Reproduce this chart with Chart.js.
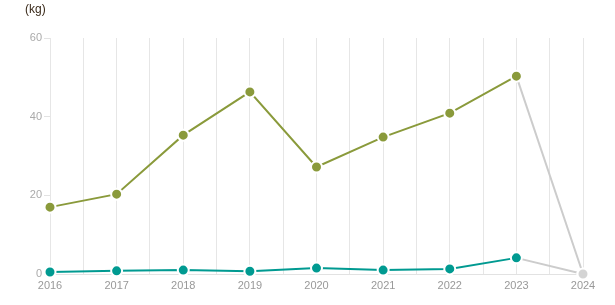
<!DOCTYPE html>
<html>
<head>
<meta charset="utf-8">
<script src="https://cdn.jsdelivr.net/npm/chart.js@4"></script>
<style>
  html, body { margin: 0; padding: 0; background: #fff; }
  #wrap { position: relative; width: 615px; height: 305px; }
  #unit { position: absolute; left: 25px; top: 2px; font: 12px "Liberation Sans", Arial, sans-serif; color: #3a2a1a; }
</style>
</head>
<body>
<div id="wrap">
  <canvas id="c" width="615" height="305"></canvas>
  <div id="unit">(kg)</div>
</div>
<script>
const years = [2016, 2017, 2018, 2019, 2020, 2021, 2022, 2023, 2024];
const seriesA = [17.0, 20.3, 35.3, 46.3, 27.2, 34.8, 40.9, 50.3, 0];
const seriesB = [0.5, 0.8, 1.0, 0.7, 1.5, 1.0, 1.3, 4.1, 0];
const yTicks = [0, 20, 40, 60];

const OLIVE = '#8a9a3b';
const TEAL = '#009a91';
const GREY_LINE = '#cccccc';
const GREY_PT = '#d4d4d4';
const lastIdx = years.length - 1;

function mk(values, color) {
  return {
    data: years.map((y, i) => ({ x: y, y: values[i] })),
    borderColor: color,
    borderWidth: 2,
    pointRadius: 5.5,
    pointHoverRadius: 5.5,
    pointBorderColor: '#ffffff',
    pointBorderWidth: 2,
    pointBackgroundColor: years.map((y, i) => i === lastIdx ? GREY_PT : color),
    segment: { borderColor: ctx => ctx.p1DataIndex === lastIdx ? GREY_LINE : undefined },
    tension: 0,
    clip: false
  };
}

new Chart(document.getElementById('c'), {
  type: 'line',
  data: { datasets: [mk(seriesA, OLIVE), mk(seriesB, TEAL)] },
  options: {
    responsive: false,
    animation: false,
    layout: { padding: { top: 38, right: 32, left: 0, bottom: 0 } },
    plugins: { legend: { display: false }, tooltip: { enabled: false } },
    scales: {
      x: {
        type: 'linear',
        min: years[0], max: years[lastIdx],
        afterFit: s => { s.height = 31; },
        afterBuildTicks: s => {
          const t = [];
          for (let v = years[0]; v <= years[lastIdx] + 1e-9; v += 0.5) t.push({ value: v });
          s.ticks = t;
        },
        ticks: {
          autoSkip: false, maxRotation: 0, padding: 5,
          color: '#999999',
          font: { family: '"Liberation Sans", Arial, sans-serif', size: 11 },
          callback: v => Number.isInteger(v) ? String(v) : ''
        },
        grid: { color: '#e6e6e6', drawTicks: false, lineWidth: 1 },
        border: { display: true, color: '#e2e2e2' }
      },
      y: {
        min: 0, max: 60,
        afterFit: s => { s.width = 50; },
        afterBuildTicks: s => { s.ticks = yTicks.map(v => ({ value: v })); },
        ticks: {
          padding: 2,
          color: '#aaaaaa',
          font: { family: '"Liberation Sans", Arial, sans-serif', size: 11 }
        },
        grid: { drawOnChartArea: false, drawTicks: true, tickLength: 6, color: '#e2e2e2' },
        border: { display: true, color: '#e6e6e6' }
      }
    }
  }
});
</script>
</body>
</html>
